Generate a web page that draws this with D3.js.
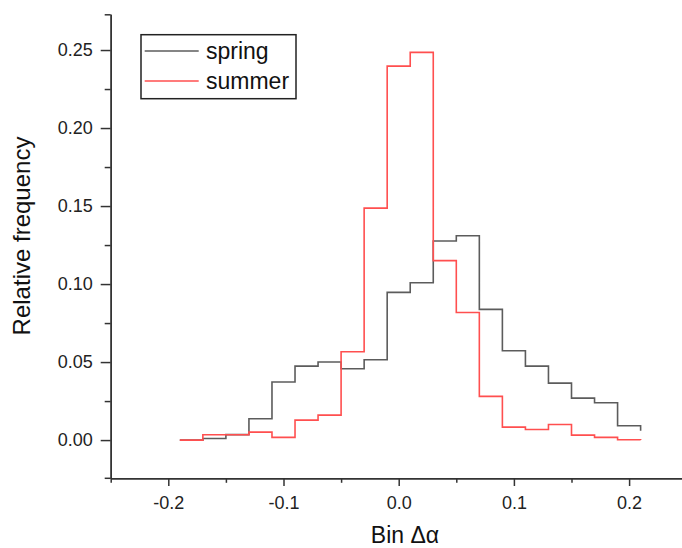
<!DOCTYPE html>
<html>
<head>
<meta charset="utf-8">
<script src="https://cdn.jsdelivr.net/npm/d3@7"></script>
<style>
  html, body { margin: 0; padding: 0; background: #fff; }
  svg { display: block; font-family: Arial, "Liberation Sans", sans-serif; }
</style>
</head>
<body>
<svg id="chart" width="682" height="548"></svg>
<script>
// Bin left edges (Δα) — step-after histogram points
const binEdges = [-0.19, -0.17, -0.15, -0.13, -0.11, -0.09, -0.07, -0.05, -0.03, -0.01,
                  0.01, 0.03, 0.05, 0.07, 0.09, 0.11, 0.13, 0.15, 0.17, 0.19, 0.21];
const springValues = [0.000, 0.001, 0.0035, 0.0137, 0.0372, 0.0474, 0.050, 0.0457, 0.0515, 0.0947,
                      0.1008, 0.1276, 0.131, 0.0838, 0.0573, 0.0474, 0.0365, 0.0269, 0.0239, 0.0092, 0.006];
const summerValues = [0.000, 0.0034, 0.0034, 0.0051, 0.0017, 0.0128, 0.016, 0.0566, 0.1487, 0.2397,
                      0.2485, 0.1150, 0.0818, 0.028, 0.0083, 0.0068, 0.0100, 0.0032, 0.0017, 0.0002, 0.000];
const seriesNames = ["spring", "summer"];
const xMajorTicks = [-0.2, -0.1, 0.0, 0.1, 0.2];
const xMinorTicks = [-0.25, -0.15, -0.05, 0.05, 0.15];
const yMajorTicks = [0.00, 0.05, 0.10, 0.15, 0.20, 0.25];
const yMinorTicks = [0.025, 0.075, 0.125, 0.175, 0.225];

const svg = d3.select("#chart");
const axisColor = "#333";
const colors = { spring: "#5c5c5c", summer: "#ff4f4f" };

const x = d3.scaleLinear().domain([-0.25, 0.25]).range([110.7, 686.7]);
const y = d3.scaleLinear().domain([-0.0245, 0.2729]).range([478.3, 14.3]);

const fmtX = v => d3.format(".1f")(v).replace("\u2212", "-");
const fmtY = v => d3.format(".2f")(v).replace("\u2212", "-");

// Y axis
const yMinor = svg.append("g").attr("transform", `translate(${x(-0.25)},0)`)
  .call(d3.axisLeft(y).tickValues(yMinorTicks.concat([0.2729])).tickSize(6).tickSizeOuter(0).tickFormat(""));
const yMajor = svg.append("g").attr("transform", `translate(${x(-0.25)},0)`)
  .call(d3.axisLeft(y).tickValues(yMajorTicks).tickSize(10).tickSizeOuter(0).tickPadding(8).tickFormat(fmtY));

// X axis
const xMinor = svg.append("g").attr("transform", `translate(0,${y(-0.0245)})`)
  .call(d3.axisBottom(x).tickValues(xMinorTicks).tickSize(4.5).tickSizeOuter(0).tickFormat(""));
const xMajor = svg.append("g").attr("transform", `translate(0,${y(-0.0245)})`)
  .call(d3.axisBottom(x).tickValues(xMajorTicks).tickSize(7.7).tickSizeOuter(0).tickPadding(10.7).tickFormat(fmtX));

[yMinor, yMajor, xMinor, xMajor].forEach(g => {
  g.selectAll("path.domain").attr("stroke", axisColor).attr("stroke-width", 1.5);
  g.selectAll(".tick line").attr("stroke", axisColor).attr("stroke-width", 1.5);
  g.selectAll(".tick text").attr("fill", "#222").style("font-size", "18px")
    .style("font-family", "Arial, 'Liberation Sans', sans-serif");
});
// x-axis extends slightly left past y-axis
svg.append("line")
  .attr("x1", x(-0.25) - 6).attr("x2", x(-0.25))
  .attr("y1", y(-0.0245)).attr("y2", y(-0.0245))
  .attr("stroke", axisColor).attr("stroke-width", 1.5);

// Step lines
const line = d3.line().curve(d3.curveStepAfter)
  .x(d => x(d[0])).y(d => y(d[1]));
const springData = binEdges.map((e, i) => [e, springValues[i]]);
const summerData = binEdges.map((e, i) => [e, summerValues[i]]);

svg.append("path").datum(springData)
  .attr("d", line).attr("fill", "none")
  .attr("stroke", colors.spring).attr("stroke-width", 1.6);
svg.append("path").datum(summerData)
  .attr("d", line).attr("fill", "none")
  .attr("stroke", colors.summer).attr("stroke-width", 1.6);

// Axis titles
svg.append("text")
  .attr("transform", `translate(30,236) rotate(-90)`)
  .attr("text-anchor", "middle")
  .style("font-size", "24px").attr("fill", "#111")
  .text("Relative frequency");
svg.append("text")
  .attr("x", 405).attr("y", 543)
  .attr("text-anchor", "middle")
  .style("font-size", "23px").attr("fill", "#111")
  .text("Bin Δα");

// Legend
const legend = svg.append("g");
legend.append("rect")
  .attr("x", 141).attr("y", 34.7).attr("width", 155).attr("height", 64)
  .attr("fill", "#fff").attr("stroke", "#222").attr("stroke-width", 1.5);
seriesNames.forEach((name, i) => {
  const ly = 51 + i * 30;
  legend.append("line")
    .attr("x1", 144.7).attr("x2", 198.7).attr("y1", ly).attr("y2", ly)
    .attr("stroke", colors[name]).attr("stroke-width", 1.6);
  legend.append("text")
    .attr("x", 206).attr("y", ly + 8)
    .style("font-size", "23px").attr("fill", "#111")
    .text(name);
});
</script>
</body>
</html>
